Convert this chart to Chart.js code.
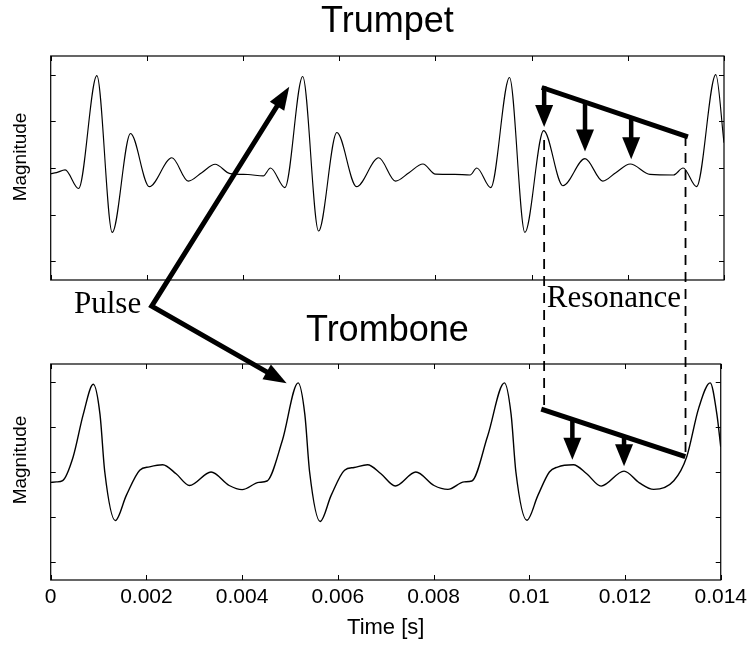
<!DOCTYPE html>
<html><head><meta charset="utf-8">
<script src="https://cdn.jsdelivr.net/npm/chart.js@4.4.1/dist/chart.umd.min.js"></script>
<style>
html,body{margin:0;padding:0;background:#fff;}
#wrap{position:relative;width:754px;height:647px;}
#wrap canvas{position:absolute;left:0;top:0;}
</style></head><body>
<div id="wrap"><canvas id="cTop" width="754" height="647"></canvas><canvas id="cBot" width="754" height="647"></canvas></div>
<script>
// ---- data (time in seconds, magnitude normalised) ----
const trumpetTime = [0, 0.00012, 0.00030, 0.00058, 0.00096, 0.00128, 0.00166, 0.00205, 0.00252, 0.00286, 0.00314, 0.00342, 0.00373, 0.00410, 0.00442, 0.00457, 0.00487, 0.00524, 0.00557, 0.00595, 0.00636, 0.00682, 0.00717, 0.00745, 0.00774, 0.00800, 0.00840, 0.00872, 0.00886, 0.00915, 0.00954, 0.00986, 0.01025, 0.01065, 0.01111, 0.01148, 0.01175, 0.01205, 0.01246, 0.01295, 0.01315, 0.01343, 0.01383, 0.01400];
const trumpetMag = [-0.06, -0.05, -0.02, -0.22, 0.99, -0.69, 0.37, -0.20, 0.11, -0.14, -0.05, 0.04, -0.06, -0.07, -0.085, 0.0, -0.21, 0.98, -0.675, 0.38, -0.20, 0.11, -0.14, -0.05, 0.043, -0.065, -0.068, -0.075, 0.0, -0.21, 0.97, -0.69, 0.40, -0.19, 0.10, -0.14, -0.05, 0.043, -0.068, -0.075, 0.0, -0.20, 1.0, 0.27];
const tromboneTime = [0, 0.00012, 0.00025, 0.00047, 0.00068, 0.00089, 0.00103, 0.00113, 0.00135, 0.00158, 0.00186, 0.00206, 0.00234, 0.00262, 0.00290, 0.00335, 0.00373, 0.00400, 0.00435, 0.00452, 0.00484, 0.00517, 0.00531, 0.00541, 0.00563, 0.00586, 0.00614, 0.00634, 0.00662, 0.00690, 0.00720, 0.00763, 0.00801, 0.00830, 0.00864, 0.00880, 0.00913, 0.00948, 0.00962, 0.00972, 0.00995, 0.01018, 0.01042, 0.01059, 0.01092, 0.01120, 0.01150, 0.01198, 0.01230, 0.01260, 0.01302, 0.01329, 0.01354, 0.01378, 0.01392, 0.01400];
const tromboneMag = [-0.115, -0.11, -0.095, 0.17, 0.64, 0.975, 0.64, 0.0, -0.54, -0.26, 0.02, 0.057, 0.08, -0.02, -0.15, 0.0, -0.15, -0.196, -0.115, -0.10, 0.35, 0.99, 0.64, 0.0, -0.55, -0.26, 0.02, 0.05, 0.08, -0.02, -0.155, 0.0, -0.15, -0.193, -0.11, -0.10, 0.40, 0.99, 0.64, 0.0, -0.536, -0.26, 0.0, 0.055, 0.08, -0.02, -0.157, 0.01, -0.12, -0.193, -0.097, 0.17, 0.71, 0.99, 0.64, 0.28];

const xTicks = [0, 0.002, 0.004, 0.006, 0.008, 0.01, 0.012, 0.014];
const xTickLabels = ['0', '0.002', '0.004', '0.006', '0.008', '0.01', '0.012', '0.014'];
const yTicks = [-1, -0.5, 0, 0.5, 1];
const panelTitles = ['Trumpet', 'Trombone'];
const xLabel = 'Time [s]';
const yLabel = 'Magnitude';

// ---- annotation anchors (data coordinates) ----
const pulseVertex = {t: 0.00210, v: -1.48};      // in trumpet axes
const pulseTipTop = {t: 0.00496, v: 0.871};      // trumpet axes
const pulseTipBottom = {t: 0.00493, v: 0.986};   // trombone axes
const resTopLine = {t0: 0.01026, v0: 0.854, t1: 0.01320, v1: 0.343};
const resTopArrows = [{t: 0.01026, v: 0.44}, {t: 0.01111, v: 0.176}, {t: 0.01207, v: 0.093}];
const resBotLine = {t0: 0.01030, v0: 0.69, t1: 0.01321, v1: 0.18};
const resBotArrows = [{t: 0.01090, v: 0.136}, {t: 0.01198, v: 0.064}];
const resDashTopV = 0.30;
const resLabelV = -1.49;

const SANS = "'Liberation Sans', Arial, Helvetica, sans-serif";
const SERIF = "'Liberation Serif', 'Times New Roman', Times, serif";
Chart.defaults.font.family = SANS;
Chart.defaults.color = '#000';

function pts(t, m) { return t.map((x, i) => ({x: x, y: m[i]})); }

const framePlugin = {
  id: 'frame',
  afterDraw(chart, args, opts) {
    const ctx = chart.ctx, ca = chart.chartArea;
    const xs = chart.scales.x, ys = chart.scales.y;
    ctx.save();
    ctx.strokeStyle = '#000';
    ctx.lineWidth = 1.2;
    ctx.strokeRect(ca.left, ca.top, ca.right - ca.left, ca.bottom - ca.top);
    ctx.lineWidth = 1;
    const tl = 5;
    ctx.beginPath();
    xTicks.forEach(v => {
      const x = Math.round(xs.getPixelForValue(v)) + 0.5;
      ctx.moveTo(x, ca.top); ctx.lineTo(x, ca.top + tl);
      ctx.moveTo(x, ca.bottom); ctx.lineTo(x, ca.bottom - tl);
    });
    yTicks.forEach(v => {
      const y = Math.round(ys.getPixelForValue(v)) + 0.5;
      ctx.moveTo(ca.left, y); ctx.lineTo(ca.left + tl, y);
      ctx.moveTo(ca.right, y); ctx.lineTo(ca.right - tl, y);
    });
    ctx.stroke();
    // y axis label
    ctx.fillStyle = '#000';
    ctx.font = '19px ' + SANS;
    ctx.textAlign = 'center';
    ctx.textBaseline = 'alphabetic';
    ctx.translate(25.5, ca.top + opts.labelOffset);
    ctx.rotate(-Math.PI / 2);
    ctx.fillText(yLabel, 0, 0);
    ctx.restore();
  }
};

function makeConfig(time, mag, title, layoutPad, titlePadBottom, showX, labelOffset, lw, extraPlugins) {
  return {
    type: 'line',
    data: { datasets: [{
      data: pts(time, mag),
      borderColor: '#000',
      borderWidth: lw,
      pointRadius: 0,
      fill: false,
      cubicInterpolationMode: 'monotone'
    }]},
    options: {
      responsive: false,
      animation: false,
      events: [],
      layout: { padding: layoutPad },
      plugins: {
        legend: { display: false },
        tooltip: { enabled: false },
        title: { display: true, text: title, color: '#000',
                 font: { size: 36, weight: 'normal', family: SANS, lineHeight: 1.2 },
                 padding: { top: 0, bottom: titlePadBottom } },
        frame: { labelOffset: labelOffset }
      },
      scales: {
        x: {
          type: 'linear', min: 0, max: 0.014, display: showX,
          afterBuildTicks: (s) => { s.ticks = xTicks.map(v => ({value: v})); },
          grid: { display: false, drawTicks: false },
          border: { display: false },
          ticks: { padding: 7, maxRotation: 0, autoSkip: false, color: '#000',
                   font: { size: 21, lineHeight: 1 },
                   callback: (v) => { const i = xTicks.indexOf(v); return i >= 0 ? xTickLabels[i] : ''; } },
          title: { display: true, text: xLabel, color: '#000', font: { size: 22, lineHeight: 1.2 }, padding: { top: 0, bottom: 0 } }
        },
        y: {
          type: 'linear', min: -1.2, max: 1.2, display: false,
          afterBuildTicks: (s) => { s.ticks = yTicks.map(v => ({value: v})); }
        }
      }
    },
    plugins: [framePlugin].concat(extraPlugins || [])
  };
}

const topChart = new Chart(document.getElementById('cTop'),
  makeConfig(trumpetTime, trumpetMag, panelTitles[0], {left: 50.7, right: 30, top: 0, bottom: 367}, 12.8, false, 101, 1.15));

function arrowHead(ctx, fx, fy, tx, ty, len, width) {
  const a = Math.atan2(ty - fy, tx - fx);
  const bx = tx - len * Math.cos(a), by = ty - len * Math.sin(a);
  const nx = -Math.sin(a) * width / 2, ny = Math.cos(a) * width / 2;
  ctx.beginPath();
  ctx.moveTo(tx, ty); ctx.lineTo(bx + nx, by + ny); ctx.lineTo(bx - nx, by - ny);
  ctx.closePath(); ctx.fill();
  return [tx - len * 0.8 * Math.cos(a), ty - len * 0.8 * Math.sin(a)];
}

const annotPlugin = {
  id: 'annot',
  afterDraw(chart) {
    const ctx = chart.ctx;
    const xT = v => topChart.scales.x.getPixelForValue(v);
    const yT = v => topChart.scales.y.getPixelForValue(v);
    const xB = v => chart.scales.x.getPixelForValue(v);
    const yB = v => chart.scales.y.getPixelForValue(v);
    ctx.save();
    ctx.strokeStyle = '#000'; ctx.fillStyle = '#000';
    ctx.lineJoin = 'miter'; ctx.lineCap = 'butt';

    // Pulse arrows
    const V = [xT(pulseVertex.t), yT(pulseVertex.v)];
    const A = [xT(pulseTipTop.t), yT(pulseTipTop.v)];
    const B = [xB(pulseTipBottom.t), yB(pulseTipBottom.v)];
    const baseA = arrowHead(ctx, V[0], V[1], A[0], A[1], 23, 17);
    const baseB = arrowHead(ctx, V[0], V[1], B[0], B[1], 23, 17);
    ctx.lineWidth = 5;
    ctx.beginPath(); ctx.moveTo(baseA[0], baseA[1]); ctx.lineTo(V[0], V[1]); ctx.lineTo(baseB[0], baseB[1]); ctx.stroke();
    ctx.font = '31px ' + SERIF;
    ctx.textAlign = 'right'; ctx.textBaseline = 'alphabetic';
    ctx.fillText('Pulse', V[0] - 10.5, V[1] + 7);

    // dashed guides
    const dxL = xT(resTopLine.t0), dxR = xT(resTopLine.t1);
    ctx.lineWidth = 1.8;
    ctx.setLineDash([10, 7]);
    ctx.beginPath();
    ctx.moveTo(dxL, yT(resDashTopV)); ctx.lineTo(dxL, yB(resBotLine.v0));
    ctx.moveTo(dxR, yT(resTopLine.v1)); ctx.lineTo(dxR, yB(resBotLine.v1));
    ctx.stroke();
    ctx.setLineDash([]);

    // top resonance envelope
    const s1 = [xT(resTopLine.t0), yT(resTopLine.v0)], e1 = [xT(resTopLine.t1), yT(resTopLine.v1)];
    const lineY1 = x => s1[1] + (x - s1[0]) * (e1[1] - s1[1]) / (e1[0] - s1[0]);
    resTopArrows.forEach((a, i) => {
      const x = xT(a.t), y0 = lineY1(x), tip = yT(a.v);
      const b = arrowHead(ctx, x, y0, x, tip, 22, 18);
      ctx.lineWidth = 4.5;
      ctx.beginPath(); ctx.moveTo(x, i === 0 ? y0 - 2 : y0); ctx.lineTo(b[0], b[1]); ctx.stroke();
    });
    ctx.lineWidth = 5;
    ctx.lineCap = 'square';
    ctx.beginPath(); ctx.moveTo(s1[0], s1[1]); ctx.lineTo(e1[0], e1[1]); ctx.stroke();

    // bottom resonance envelope
    const s2 = [xB(resBotLine.t0), yB(resBotLine.v0)], e2 = [xB(resBotLine.t1), yB(resBotLine.v1)];
    const lineY2 = x => s2[1] + (x - s2[0]) * (e2[1] - s2[1]) / (e2[0] - s2[0]);
    ctx.lineCap = 'butt';
    resBotArrows.forEach(a => {
      const x = xB(a.t), y0 = lineY2(x), tip = yB(a.v);
      const b = arrowHead(ctx, x, y0, x, tip, 22, 18);
      ctx.lineWidth = 4.5;
      ctx.beginPath(); ctx.moveTo(x, y0); ctx.lineTo(b[0], b[1]); ctx.stroke();
    });
    ctx.lineWidth = 5;
    ctx.lineCap = 'square';
    ctx.beginPath(); ctx.moveTo(s2[0], s2[1]); ctx.lineTo(e2[0], e2[1]); ctx.stroke();

    // Resonance label
    ctx.font = '31px ' + SERIF;
    ctx.textAlign = 'left';
    ctx.fillText('Resonance', dxL + 2.6, yT(resLabelV));
    ctx.restore();
  }
};

const botChart = new Chart(document.getElementById('cBot'),
  makeConfig(tromboneTime, tromboneMag, panelTitles[1], {left: 50.7, right: 30, top: 309.4, bottom: 5.6}, 11.4, true, 96, 1.4, [annotPlugin]));
</script>
</body></html>
